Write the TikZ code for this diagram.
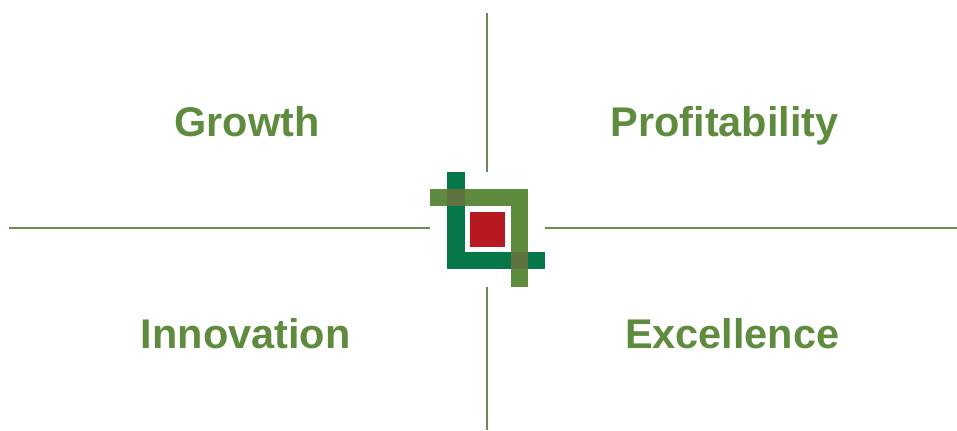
\documentclass[tikz,border=0pt]{standalone}
\usepackage{fontspec}
\setmainfont{Liberation Sans}
\definecolor{leaf}{HTML}{5F8B3E}
\definecolor{forest}{HTML}{07774A}
\definecolor{crimson}{HTML}{B71921}
\definecolor{overlap}{HTML}{5F7340}
\definecolor{rule}{HTML}{6C8A55}
\tikzset{
  label text/.style={font=\bfseries\fontsize{31.1}{36}\selectfont, text=leaf, inner sep=0pt, anchor=base},
  axis/.style={draw=rule, line width=1.25pt},
}
\begin{document}
\begin{tikzpicture}[x=0.75pt,y=-0.75pt]
\useasboundingbox (0,0) rectangle (957,430);
% logo
\fill[forest] (447.3,172) rectangle (464.8,269.3);
\fill[forest] (447.3,252.3) rectangle (545,269.3);
\fill[leaf] (430,189.3) rectangle (527.7,206.4);
\fill[leaf] (510.6,189.3) rectangle (527.7,286.8);
\fill[overlap] (447.3,189.3) rectangle (464.8,206.4);
\fill[overlap] (510.6,252.3) rectangle (527.7,269.3);
\fill[crimson] (470.3,212.3) rectangle (505,246.8);
% axes
\coordinate (top) at (487.2,13);
\coordinate (topin) at (487.2,172);
\coordinate (bottomin) at (487.2,287);
\coordinate (bottom) at (487.2,430);
\coordinate (left) at (9,227.7);
\coordinate (leftin) at (430,227.7);
\coordinate (rightin) at (544.5,227.7);
\coordinate (right) at (957,227.7);
\draw[axis] (top) -- (topin);
\draw[axis] (bottomin) -- (bottom);
\draw[axis] (left) -- (leftin);
\draw[axis] (rightin) -- (right);
% labels
\node[label text] (growth) at (247,136) {Growth};
\node[label text] (profitability) at (724.7,136) {Profitability};
\node[label text] (innovation) at (245.8,348) {Innovation};
\node[label text] (excellence) at (732.2,348) {Excellence};
\end{tikzpicture}
\end{document}
